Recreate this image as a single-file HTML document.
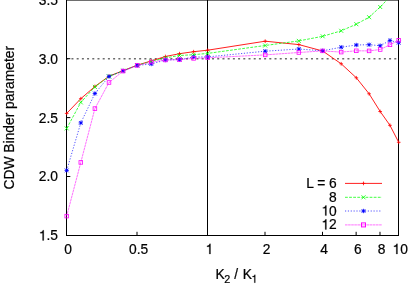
<!DOCTYPE html>
<html><head><meta charset="utf-8"><title>CDW Binder parameter</title>
<style>
html,body{margin:0;padding:0;background:#fff;}
svg{display:block;}
text{font-family:"Liberation Sans",sans-serif;font-size:13.8px;fill:#000;stroke:#000;stroke-width:0.22px;}
</style></head><body>
<svg width="415" height="291" viewBox="0 0 415 291">
<rect x="0" y="0" width="415" height="291" fill="#fff"/>
<!-- dotted reference line at 3.0 -->
<line x1="66.25" y1="58.75" x2="397" y2="58.75" stroke="#6c6c6c" stroke-width="1.5" stroke-dasharray="2 3.207"/>
<!-- frame -->
<line x1="66" y1="0.5" x2="399" y2="0.5" stroke="#6e6e6e" stroke-width="1"/>
<line x1="66.5" y1="0" x2="66.5" y2="236" stroke="#000" stroke-width="1"/>
<line x1="398.5" y1="0" x2="398.5" y2="236" stroke="#000" stroke-width="1"/>
<line x1="66" y1="235.5" x2="399" y2="235.5" stroke="#000" stroke-width="1"/>
<line x1="207.5" y1="0" x2="207.5" y2="236" stroke="#000" stroke-width="1"/>
<line x1="67" y1="58.70" x2="70.3" y2="58.70" stroke="#000" stroke-width="1"/>
<line x1="67" y1="117.60" x2="70.3" y2="117.60" stroke="#000" stroke-width="1"/>
<line x1="67" y1="176.50" x2="70.3" y2="176.50" stroke="#000" stroke-width="1"/>
<line x1="137.00" y1="231.8" x2="137.00" y2="235" stroke="#000" stroke-width="1"/>
<line x1="265.00" y1="231.8" x2="265.00" y2="235" stroke="#000" stroke-width="1"/>
<line x1="322.49" y1="231.8" x2="322.49" y2="235" stroke="#000" stroke-width="1"/>
<line x1="356.13" y1="231.8" x2="356.13" y2="235" stroke="#000" stroke-width="1"/>
<line x1="379.99" y1="231.8" x2="379.99" y2="235" stroke="#000" stroke-width="1"/>
<g>
<polyline points="66.70,113.40 80.80,98.70 94.90,86.50 109.00,76.20 123.10,70.70 137.20,65.20 151.30,60.90 165.40,56.50 179.50,53.70 193.60,51.70 207.70,50.20 265.20,41.20 298.83,44.60 322.69,51.00 341.20,63.80 356.33,77.80 369.11,93.80 380.19,111.50 389.96,125.30 398.70,142.30" fill="none" stroke="#ff0000" stroke-width="0.88"/>
<path d="M64.85 113.40H68.55M66.70 111.55V115.25" stroke="#ff0000" stroke-width="0.8" fill="none"/>
<path d="M78.95 98.70H82.65M80.80 96.85V100.55" stroke="#ff0000" stroke-width="0.8" fill="none"/>
<path d="M93.05 86.50H96.75M94.90 84.65V88.35" stroke="#ff0000" stroke-width="0.8" fill="none"/>
<path d="M107.15 76.20H110.85M109.00 74.35V78.05" stroke="#ff0000" stroke-width="0.8" fill="none"/>
<path d="M121.25 70.70H124.95M123.10 68.85V72.55" stroke="#ff0000" stroke-width="0.8" fill="none"/>
<path d="M135.35 65.20H139.05M137.20 63.35V67.05" stroke="#ff0000" stroke-width="0.8" fill="none"/>
<path d="M149.45 60.90H153.15M151.30 59.05V62.75" stroke="#ff0000" stroke-width="0.8" fill="none"/>
<path d="M163.55 56.50H167.25M165.40 54.65V58.35" stroke="#ff0000" stroke-width="0.8" fill="none"/>
<path d="M177.65 53.70H181.35M179.50 51.85V55.55" stroke="#ff0000" stroke-width="0.8" fill="none"/>
<path d="M191.75 51.70H195.45M193.60 49.85V53.55" stroke="#ff0000" stroke-width="0.8" fill="none"/>
<path d="M205.85 50.20H209.55M207.70 48.35V52.05" stroke="#ff0000" stroke-width="0.8" fill="none"/>
<path d="M263.35 41.20H267.05M265.20 39.35V43.05" stroke="#ff0000" stroke-width="0.8" fill="none"/>
<path d="M296.98 44.60H300.68M298.83 42.75V46.45" stroke="#ff0000" stroke-width="0.8" fill="none"/>
<path d="M320.84 51.00H324.54M322.69 49.15V52.85" stroke="#ff0000" stroke-width="0.8" fill="none"/>
<path d="M339.35 63.80H343.05M341.20 61.95V65.65" stroke="#ff0000" stroke-width="0.8" fill="none"/>
<path d="M354.48 77.80H358.18M356.33 75.95V79.65" stroke="#ff0000" stroke-width="0.8" fill="none"/>
<path d="M367.26 93.80H370.96M369.11 91.95V95.65" stroke="#ff0000" stroke-width="0.8" fill="none"/>
<path d="M378.34 111.50H382.04M380.19 109.65V113.35" stroke="#ff0000" stroke-width="0.8" fill="none"/>
<path d="M388.11 125.30H391.81M389.96 123.45V127.15" stroke="#ff0000" stroke-width="0.8" fill="none"/>
<path d="M396.85 142.30H400.55M398.70 140.45V144.15" stroke="#ff0000" stroke-width="0.8" fill="none"/>
<polyline points="66.70,128.40 80.80,102.40 94.90,86.90 109.00,76.40 123.10,70.80 137.20,65.20 151.30,61.40 165.40,57.90 179.50,55.50 193.60,54.70 207.70,53.40 265.20,45.50 298.83,40.90 322.69,36.30 341.20,30.80 356.33,24.20 369.11,17.20 380.19,7.00 389.96,-3.20 398.70,-14.80" fill="none" stroke="#00ff00" stroke-width="0.75" stroke-dasharray="2.8 1.3"/>
<path d="M64.70 126.40L68.70 130.40M64.70 130.40L68.70 126.40" stroke="#00ff00" stroke-width="0.8" fill="none"/>
<path d="M78.80 100.40L82.80 104.40M78.80 104.40L82.80 100.40" stroke="#00ff00" stroke-width="0.8" fill="none"/>
<path d="M92.90 84.90L96.90 88.90M92.90 88.90L96.90 84.90" stroke="#00ff00" stroke-width="0.8" fill="none"/>
<path d="M107.00 74.40L111.00 78.40M107.00 78.40L111.00 74.40" stroke="#00ff00" stroke-width="0.8" fill="none"/>
<path d="M121.10 68.80L125.10 72.80M121.10 72.80L125.10 68.80" stroke="#00ff00" stroke-width="0.8" fill="none"/>
<path d="M135.20 63.20L139.20 67.20M135.20 67.20L139.20 63.20" stroke="#00ff00" stroke-width="0.8" fill="none"/>
<path d="M149.30 59.40L153.30 63.40M149.30 63.40L153.30 59.40" stroke="#00ff00" stroke-width="0.8" fill="none"/>
<path d="M163.40 55.90L167.40 59.90M163.40 59.90L167.40 55.90" stroke="#00ff00" stroke-width="0.8" fill="none"/>
<path d="M177.50 53.50L181.50 57.50M177.50 57.50L181.50 53.50" stroke="#00ff00" stroke-width="0.8" fill="none"/>
<path d="M191.60 52.70L195.60 56.70M191.60 56.70L195.60 52.70" stroke="#00ff00" stroke-width="0.8" fill="none"/>
<path d="M205.70 51.40L209.70 55.40M205.70 55.40L209.70 51.40" stroke="#00ff00" stroke-width="0.8" fill="none"/>
<path d="M263.20 43.50L267.20 47.50M263.20 47.50L267.20 43.50" stroke="#00ff00" stroke-width="0.8" fill="none"/>
<path d="M296.83 38.90L300.83 42.90M296.83 42.90L300.83 38.90" stroke="#00ff00" stroke-width="0.8" fill="none"/>
<path d="M320.69 34.30L324.69 38.30M320.69 38.30L324.69 34.30" stroke="#00ff00" stroke-width="0.8" fill="none"/>
<path d="M339.20 28.80L343.20 32.80M339.20 32.80L343.20 28.80" stroke="#00ff00" stroke-width="0.8" fill="none"/>
<path d="M354.33 22.20L358.33 26.20M354.33 26.20L358.33 22.20" stroke="#00ff00" stroke-width="0.8" fill="none"/>
<path d="M367.11 15.20L371.11 19.20M367.11 19.20L371.11 15.20" stroke="#00ff00" stroke-width="0.8" fill="none"/>
<path d="M378.19 5.00L382.19 9.00M378.19 9.00L382.19 5.00" stroke="#00ff00" stroke-width="0.8" fill="none"/>
<path d="M387.96 -5.20L391.96 -1.20M387.96 -1.20L391.96 -5.20" stroke="#00ff00" stroke-width="0.8" fill="none"/>
<path d="M396.70 -16.80L400.70 -12.80M396.70 -12.80L400.70 -16.80" stroke="#00ff00" stroke-width="0.8" fill="none"/>
<polyline points="66.70,170.40 80.80,122.90 94.90,93.50 109.00,76.50 123.10,70.90 137.20,65.40 151.30,64.00 165.40,60.00 179.50,59.60 193.60,57.00 207.70,56.90 265.20,51.20 298.83,49.00 322.69,50.80 341.20,47.20 356.33,45.00 369.11,44.70 380.19,45.70 389.96,40.50 398.70,42.70" fill="none" stroke="#0000ff" stroke-width="0.68" stroke-dasharray="1.2 1.65"/>
<path d="M64.50 170.40H68.90M66.70 168.20V172.60" stroke="#0000ff" stroke-width="0.8" fill="none"/><path d="M64.80 168.50L68.60 172.30M64.80 172.30L68.60 168.50" stroke="#0000ff" stroke-width="0.8" fill="none"/><circle cx="66.70" cy="170.40" r="1.05" fill="#0000ff"/>
<path d="M78.60 122.90H83.00M80.80 120.70V125.10" stroke="#0000ff" stroke-width="0.8" fill="none"/><path d="M78.90 121.00L82.70 124.80M78.90 124.80L82.70 121.00" stroke="#0000ff" stroke-width="0.8" fill="none"/><circle cx="80.80" cy="122.90" r="1.05" fill="#0000ff"/>
<path d="M92.70 93.50H97.10M94.90 91.30V95.70" stroke="#0000ff" stroke-width="0.8" fill="none"/><path d="M93.00 91.60L96.80 95.40M93.00 95.40L96.80 91.60" stroke="#0000ff" stroke-width="0.8" fill="none"/><circle cx="94.90" cy="93.50" r="1.05" fill="#0000ff"/>
<path d="M106.80 76.50H111.20M109.00 74.30V78.70" stroke="#0000ff" stroke-width="0.8" fill="none"/><path d="M107.10 74.60L110.90 78.40M107.10 78.40L110.90 74.60" stroke="#0000ff" stroke-width="0.8" fill="none"/><circle cx="109.00" cy="76.50" r="1.05" fill="#0000ff"/>
<path d="M120.90 70.90H125.30M123.10 68.70V73.10" stroke="#0000ff" stroke-width="0.8" fill="none"/><path d="M121.20 69.00L125.00 72.80M121.20 72.80L125.00 69.00" stroke="#0000ff" stroke-width="0.8" fill="none"/><circle cx="123.10" cy="70.90" r="1.05" fill="#0000ff"/>
<path d="M135.00 65.40H139.40M137.20 63.20V67.60" stroke="#0000ff" stroke-width="0.8" fill="none"/><path d="M135.30 63.50L139.10 67.30M135.30 67.30L139.10 63.50" stroke="#0000ff" stroke-width="0.8" fill="none"/><circle cx="137.20" cy="65.40" r="1.05" fill="#0000ff"/>
<path d="M149.10 64.00H153.50M151.30 61.80V66.20" stroke="#0000ff" stroke-width="0.8" fill="none"/><path d="M149.40 62.10L153.20 65.90M149.40 65.90L153.20 62.10" stroke="#0000ff" stroke-width="0.8" fill="none"/><circle cx="151.30" cy="64.00" r="1.05" fill="#0000ff"/>
<path d="M163.20 60.00H167.60M165.40 57.80V62.20" stroke="#0000ff" stroke-width="0.8" fill="none"/><path d="M163.50 58.10L167.30 61.90M163.50 61.90L167.30 58.10" stroke="#0000ff" stroke-width="0.8" fill="none"/><circle cx="165.40" cy="60.00" r="1.05" fill="#0000ff"/>
<path d="M177.30 59.60H181.70M179.50 57.40V61.80" stroke="#0000ff" stroke-width="0.8" fill="none"/><path d="M177.60 57.70L181.40 61.50M177.60 61.50L181.40 57.70" stroke="#0000ff" stroke-width="0.8" fill="none"/><circle cx="179.50" cy="59.60" r="1.05" fill="#0000ff"/>
<path d="M191.40 57.00H195.80M193.60 54.80V59.20" stroke="#0000ff" stroke-width="0.8" fill="none"/><path d="M191.70 55.10L195.50 58.90M191.70 58.90L195.50 55.10" stroke="#0000ff" stroke-width="0.8" fill="none"/><circle cx="193.60" cy="57.00" r="1.05" fill="#0000ff"/>
<path d="M205.50 56.90H209.90M207.70 54.70V59.10" stroke="#0000ff" stroke-width="0.8" fill="none"/><path d="M205.80 55.00L209.60 58.80M205.80 58.80L209.60 55.00" stroke="#0000ff" stroke-width="0.8" fill="none"/><circle cx="207.70" cy="56.90" r="1.05" fill="#0000ff"/>
<path d="M263.00 51.20H267.40M265.20 49.00V53.40" stroke="#0000ff" stroke-width="0.8" fill="none"/><path d="M263.30 49.30L267.10 53.10M263.30 53.10L267.10 49.30" stroke="#0000ff" stroke-width="0.8" fill="none"/><circle cx="265.20" cy="51.20" r="1.05" fill="#0000ff"/>
<path d="M296.63 49.00H301.03M298.83 46.80V51.20" stroke="#0000ff" stroke-width="0.8" fill="none"/><path d="M296.93 47.10L300.73 50.90M296.93 50.90L300.73 47.10" stroke="#0000ff" stroke-width="0.8" fill="none"/><circle cx="298.83" cy="49.00" r="1.05" fill="#0000ff"/>
<path d="M320.49 50.80H324.89M322.69 48.60V53.00" stroke="#0000ff" stroke-width="0.8" fill="none"/><path d="M320.79 48.90L324.59 52.70M320.79 52.70L324.59 48.90" stroke="#0000ff" stroke-width="0.8" fill="none"/><circle cx="322.69" cy="50.80" r="1.05" fill="#0000ff"/>
<path d="M339.00 47.20H343.40M341.20 45.00V49.40" stroke="#0000ff" stroke-width="0.8" fill="none"/><path d="M339.30 45.30L343.10 49.10M339.30 49.10L343.10 45.30" stroke="#0000ff" stroke-width="0.8" fill="none"/><circle cx="341.20" cy="47.20" r="1.05" fill="#0000ff"/>
<path d="M354.13 45.00H358.53M356.33 42.80V47.20" stroke="#0000ff" stroke-width="0.8" fill="none"/><path d="M354.43 43.10L358.23 46.90M354.43 46.90L358.23 43.10" stroke="#0000ff" stroke-width="0.8" fill="none"/><circle cx="356.33" cy="45.00" r="1.05" fill="#0000ff"/>
<path d="M366.91 44.70H371.31M369.11 42.50V46.90" stroke="#0000ff" stroke-width="0.8" fill="none"/><path d="M367.21 42.80L371.01 46.60M367.21 46.60L371.01 42.80" stroke="#0000ff" stroke-width="0.8" fill="none"/><circle cx="369.11" cy="44.70" r="1.05" fill="#0000ff"/>
<path d="M377.99 45.70H382.39M380.19 43.50V47.90" stroke="#0000ff" stroke-width="0.8" fill="none"/><path d="M378.29 43.80L382.09 47.60M378.29 47.60L382.09 43.80" stroke="#0000ff" stroke-width="0.8" fill="none"/><circle cx="380.19" cy="45.70" r="1.05" fill="#0000ff"/>
<path d="M387.76 40.50H392.16M389.96 38.30V42.70" stroke="#0000ff" stroke-width="0.8" fill="none"/><path d="M388.06 38.60L391.86 42.40M388.06 42.40L391.86 38.60" stroke="#0000ff" stroke-width="0.8" fill="none"/><circle cx="389.96" cy="40.50" r="1.05" fill="#0000ff"/>
<path d="M396.50 42.70H400.90M398.70 40.50V44.90" stroke="#0000ff" stroke-width="0.8" fill="none"/><path d="M396.80 40.80L400.60 44.60M396.80 44.60L400.60 40.80" stroke="#0000ff" stroke-width="0.8" fill="none"/><circle cx="398.70" cy="42.70" r="1.05" fill="#0000ff"/>
<polyline points="66.70,216.10 80.80,162.40 94.90,108.60 109.00,82.50 123.10,71.10 137.20,65.40 151.30,62.00 165.40,60.00 179.50,59.60 193.60,58.40 207.70,57.80 265.20,54.90 298.83,52.50 322.69,50.90 341.20,52.10 356.33,50.80 369.11,50.90 380.19,49.50 389.96,44.80 398.70,40.20" fill="none" stroke="#ff00ff" stroke-width="0.56" stroke-dasharray="2.6 0.5"/>
<rect x="64.90" y="214.30" width="3.60" height="3.60" stroke="#ff00ff" stroke-width="0.8" fill="none"/><rect x="66.40" y="215.80" width="0.6" height="0.6" fill="#ff00ff" opacity="0.6"/>
<rect x="79.00" y="160.60" width="3.60" height="3.60" stroke="#ff00ff" stroke-width="0.8" fill="none"/><rect x="80.50" y="162.10" width="0.6" height="0.6" fill="#ff00ff" opacity="0.6"/>
<rect x="93.10" y="106.80" width="3.60" height="3.60" stroke="#ff00ff" stroke-width="0.8" fill="none"/><rect x="94.60" y="108.30" width="0.6" height="0.6" fill="#ff00ff" opacity="0.6"/>
<rect x="107.20" y="80.70" width="3.60" height="3.60" stroke="#ff00ff" stroke-width="0.8" fill="none"/><rect x="108.70" y="82.20" width="0.6" height="0.6" fill="#ff00ff" opacity="0.6"/>
<rect x="121.30" y="69.30" width="3.60" height="3.60" stroke="#ff00ff" stroke-width="0.8" fill="none"/><rect x="122.80" y="70.80" width="0.6" height="0.6" fill="#ff00ff" opacity="0.6"/>
<rect x="135.40" y="63.60" width="3.60" height="3.60" stroke="#ff00ff" stroke-width="0.8" fill="none"/><rect x="136.90" y="65.10" width="0.6" height="0.6" fill="#ff00ff" opacity="0.6"/>
<rect x="149.50" y="60.20" width="3.60" height="3.60" stroke="#ff00ff" stroke-width="0.8" fill="none"/><rect x="151.00" y="61.70" width="0.6" height="0.6" fill="#ff00ff" opacity="0.6"/>
<rect x="163.60" y="58.20" width="3.60" height="3.60" stroke="#ff00ff" stroke-width="0.8" fill="none"/><rect x="165.10" y="59.70" width="0.6" height="0.6" fill="#ff00ff" opacity="0.6"/>
<rect x="177.70" y="57.80" width="3.60" height="3.60" stroke="#ff00ff" stroke-width="0.8" fill="none"/><rect x="179.20" y="59.30" width="0.6" height="0.6" fill="#ff00ff" opacity="0.6"/>
<rect x="191.80" y="56.60" width="3.60" height="3.60" stroke="#ff00ff" stroke-width="0.8" fill="none"/><rect x="193.30" y="58.10" width="0.6" height="0.6" fill="#ff00ff" opacity="0.6"/>
<rect x="205.90" y="56.00" width="3.60" height="3.60" stroke="#ff00ff" stroke-width="0.8" fill="none"/><rect x="207.40" y="57.50" width="0.6" height="0.6" fill="#ff00ff" opacity="0.6"/>
<rect x="263.40" y="53.10" width="3.60" height="3.60" stroke="#ff00ff" stroke-width="0.8" fill="none"/><rect x="264.90" y="54.60" width="0.6" height="0.6" fill="#ff00ff" opacity="0.6"/>
<rect x="297.03" y="50.70" width="3.60" height="3.60" stroke="#ff00ff" stroke-width="0.8" fill="none"/><rect x="298.53" y="52.20" width="0.6" height="0.6" fill="#ff00ff" opacity="0.6"/>
<rect x="320.89" y="49.10" width="3.60" height="3.60" stroke="#ff00ff" stroke-width="0.8" fill="none"/><rect x="322.39" y="50.60" width="0.6" height="0.6" fill="#ff00ff" opacity="0.6"/>
<rect x="339.40" y="50.30" width="3.60" height="3.60" stroke="#ff00ff" stroke-width="0.8" fill="none"/><rect x="340.90" y="51.80" width="0.6" height="0.6" fill="#ff00ff" opacity="0.6"/>
<rect x="354.53" y="49.00" width="3.60" height="3.60" stroke="#ff00ff" stroke-width="0.8" fill="none"/><rect x="356.03" y="50.50" width="0.6" height="0.6" fill="#ff00ff" opacity="0.6"/>
<rect x="367.31" y="49.10" width="3.60" height="3.60" stroke="#ff00ff" stroke-width="0.8" fill="none"/><rect x="368.81" y="50.60" width="0.6" height="0.6" fill="#ff00ff" opacity="0.6"/>
<rect x="378.39" y="47.70" width="3.60" height="3.60" stroke="#ff00ff" stroke-width="0.8" fill="none"/><rect x="379.89" y="49.20" width="0.6" height="0.6" fill="#ff00ff" opacity="0.6"/>
<rect x="388.16" y="43.00" width="3.60" height="3.60" stroke="#ff00ff" stroke-width="0.8" fill="none"/><rect x="389.66" y="44.50" width="0.6" height="0.6" fill="#ff00ff" opacity="0.6"/>
<rect x="396.90" y="38.40" width="3.60" height="3.60" stroke="#ff00ff" stroke-width="0.8" fill="none"/><rect x="398.40" y="39.90" width="0.6" height="0.6" fill="#ff00ff" opacity="0.6"/>
</g>
<line x1="345" y1="183.4" x2="382" y2="183.4" stroke="#ff0000" stroke-width="0.88"/>
<path d="M361.65 183.40H365.35M363.50 181.55V185.25" stroke="#ff0000" stroke-width="0.8" fill="none"/>
<line x1="345" y1="197.3" x2="382" y2="197.3" stroke="#00ff00" stroke-width="0.75" stroke-dasharray="2.8 1.3"/>
<path d="M361.50 195.30L365.50 199.30M361.50 199.30L365.50 195.30" stroke="#00ff00" stroke-width="0.8" fill="none"/>
<line x1="345" y1="211.0" x2="382" y2="211.0" stroke="#0000ff" stroke-width="0.68" stroke-dasharray="1.2 1.65"/>
<path d="M361.30 211.00H365.70M363.50 208.80V213.20" stroke="#0000ff" stroke-width="0.8" fill="none"/><path d="M361.60 209.10L365.40 212.90M361.60 212.90L365.40 209.10" stroke="#0000ff" stroke-width="0.8" fill="none"/><circle cx="363.50" cy="211.00" r="1.05" fill="#0000ff"/>
<line x1="345" y1="224.9" x2="382" y2="224.9" stroke="#ff00ff" stroke-width="0.56" stroke-dasharray="2.6 0.5"/>
<rect x="361.50" y="222.90" width="4.00" height="4.00" stroke="#ff00ff" stroke-width="1.0" fill="none"/><rect x="363.20" y="224.60" width="0.6" height="0.6" fill="#ff00ff" opacity="0.6"/>
<g opacity="0.999">
<text transform="translate(0,4.80) scale(1,1.04) translate(0,-4.80)" x="58" y="4.8" text-anchor="end">3.5</text>
<text transform="translate(0,63.70) scale(1,1.04) translate(0,-63.70)" x="58" y="63.7" text-anchor="end">3.0</text>
<text transform="translate(0,122.60) scale(1,1.04) translate(0,-122.60)" x="58" y="122.6" text-anchor="end">2.5</text>
<text transform="translate(0,181.50) scale(1,1.04) translate(0,-181.50)" x="58" y="181.5" text-anchor="end">2.0</text>
<text transform="translate(0,240.40) scale(1,1.04) translate(0,-240.40)" x="58" y="240.4" text-anchor="end">.5</text>
<path transform="translate(38.82,240.40) scale(0.01380,-0.01435)" d="M359 0H271V505H101V568C195 570 265 600 293 709H359Z" fill="#000" stroke="#000" stroke-width="15.9"/>
<text transform="translate(0,254.00) scale(1,1.04) translate(0,-254.00)" x="68.20" y="254" text-anchor="middle">0</text>
<text transform="translate(0,254.00) scale(1,1.04) translate(0,-254.00)" x="138.70" y="254" text-anchor="middle">0.5</text>
<path transform="translate(205.56,254.00) scale(0.01380,-0.01435)" d="M359 0H271V505H101V568C195 570 265 600 293 709H359Z" fill="#000" stroke="#000" stroke-width="15.9"/>
<text transform="translate(0,254.00) scale(1,1.04) translate(0,-254.00)" x="266.70" y="254" text-anchor="middle">2</text>
<text transform="translate(0,254.00) scale(1,1.04) translate(0,-254.00)" x="324.19" y="254" text-anchor="middle">4</text>
<text transform="translate(0,254.00) scale(1,1.04) translate(0,-254.00)" x="357.83" y="254" text-anchor="middle">6</text>
<text transform="translate(0,254.00) scale(1,1.04) translate(0,-254.00)" x="381.69" y="254" text-anchor="middle">8</text>
<path transform="translate(392.53,254.00) scale(0.01380,-0.01435)" d="M359 0H271V505H101V568C195 570 265 600 293 709H359Z" fill="#000" stroke="#000" stroke-width="15.9"/>
<text transform="translate(0,254.00) scale(1,1.04) translate(0,-254.00)" x="400.20" y="254" text-anchor="start">0</text>
<text transform="translate(0,188.00) scale(1,1.04) translate(0,-188.00)" x="336.8" y="188.0" text-anchor="end">L = 6</text>
<text transform="translate(0,201.90) scale(1,1.04) translate(0,-201.90)" x="336.8" y="201.9" text-anchor="end">8</text>
<text transform="translate(0,215.60) scale(1,1.04) translate(0,-215.60)" x="336.8" y="215.6" text-anchor="end">0</text>
<path transform="translate(321.45,215.60) scale(0.01380,-0.01435)" d="M359 0H271V505H101V568C195 570 265 600 293 709H359Z" fill="#000" stroke="#000" stroke-width="15.9"/>
<text transform="translate(0,229.50) scale(1,1.04) translate(0,-229.50)" x="336.8" y="229.5" text-anchor="end">2</text>
<path transform="translate(321.45,229.50) scale(0.01380,-0.01435)" d="M359 0H271V505H101V568C195 570 265 600 293 709H359Z" fill="#000" stroke="#000" stroke-width="15.9"/>
<text transform="translate(14.35,117.7) rotate(-90)" text-anchor="middle" style="font-size:13.82px">CDW Binder parameter</text>
<text transform="translate(0,278.70) scale(1,1.04) translate(0,-278.70)" y="278.7"><tspan x="215.6">K</tspan><tspan x="224.3" dy="4" font-size="10.8px">2</tspan><tspan x="234.3" dy="-4">/</tspan><tspan x="242.7">K</tspan></text>
<path transform="translate(251.40,282.70) scale(0.01080,-0.01123)" d="M359 0H271V505H101V568C195 570 265 600 293 709H359Z" fill="#000" stroke="#000" stroke-width="20.4"/>
</g>
</svg>
</body></html>
